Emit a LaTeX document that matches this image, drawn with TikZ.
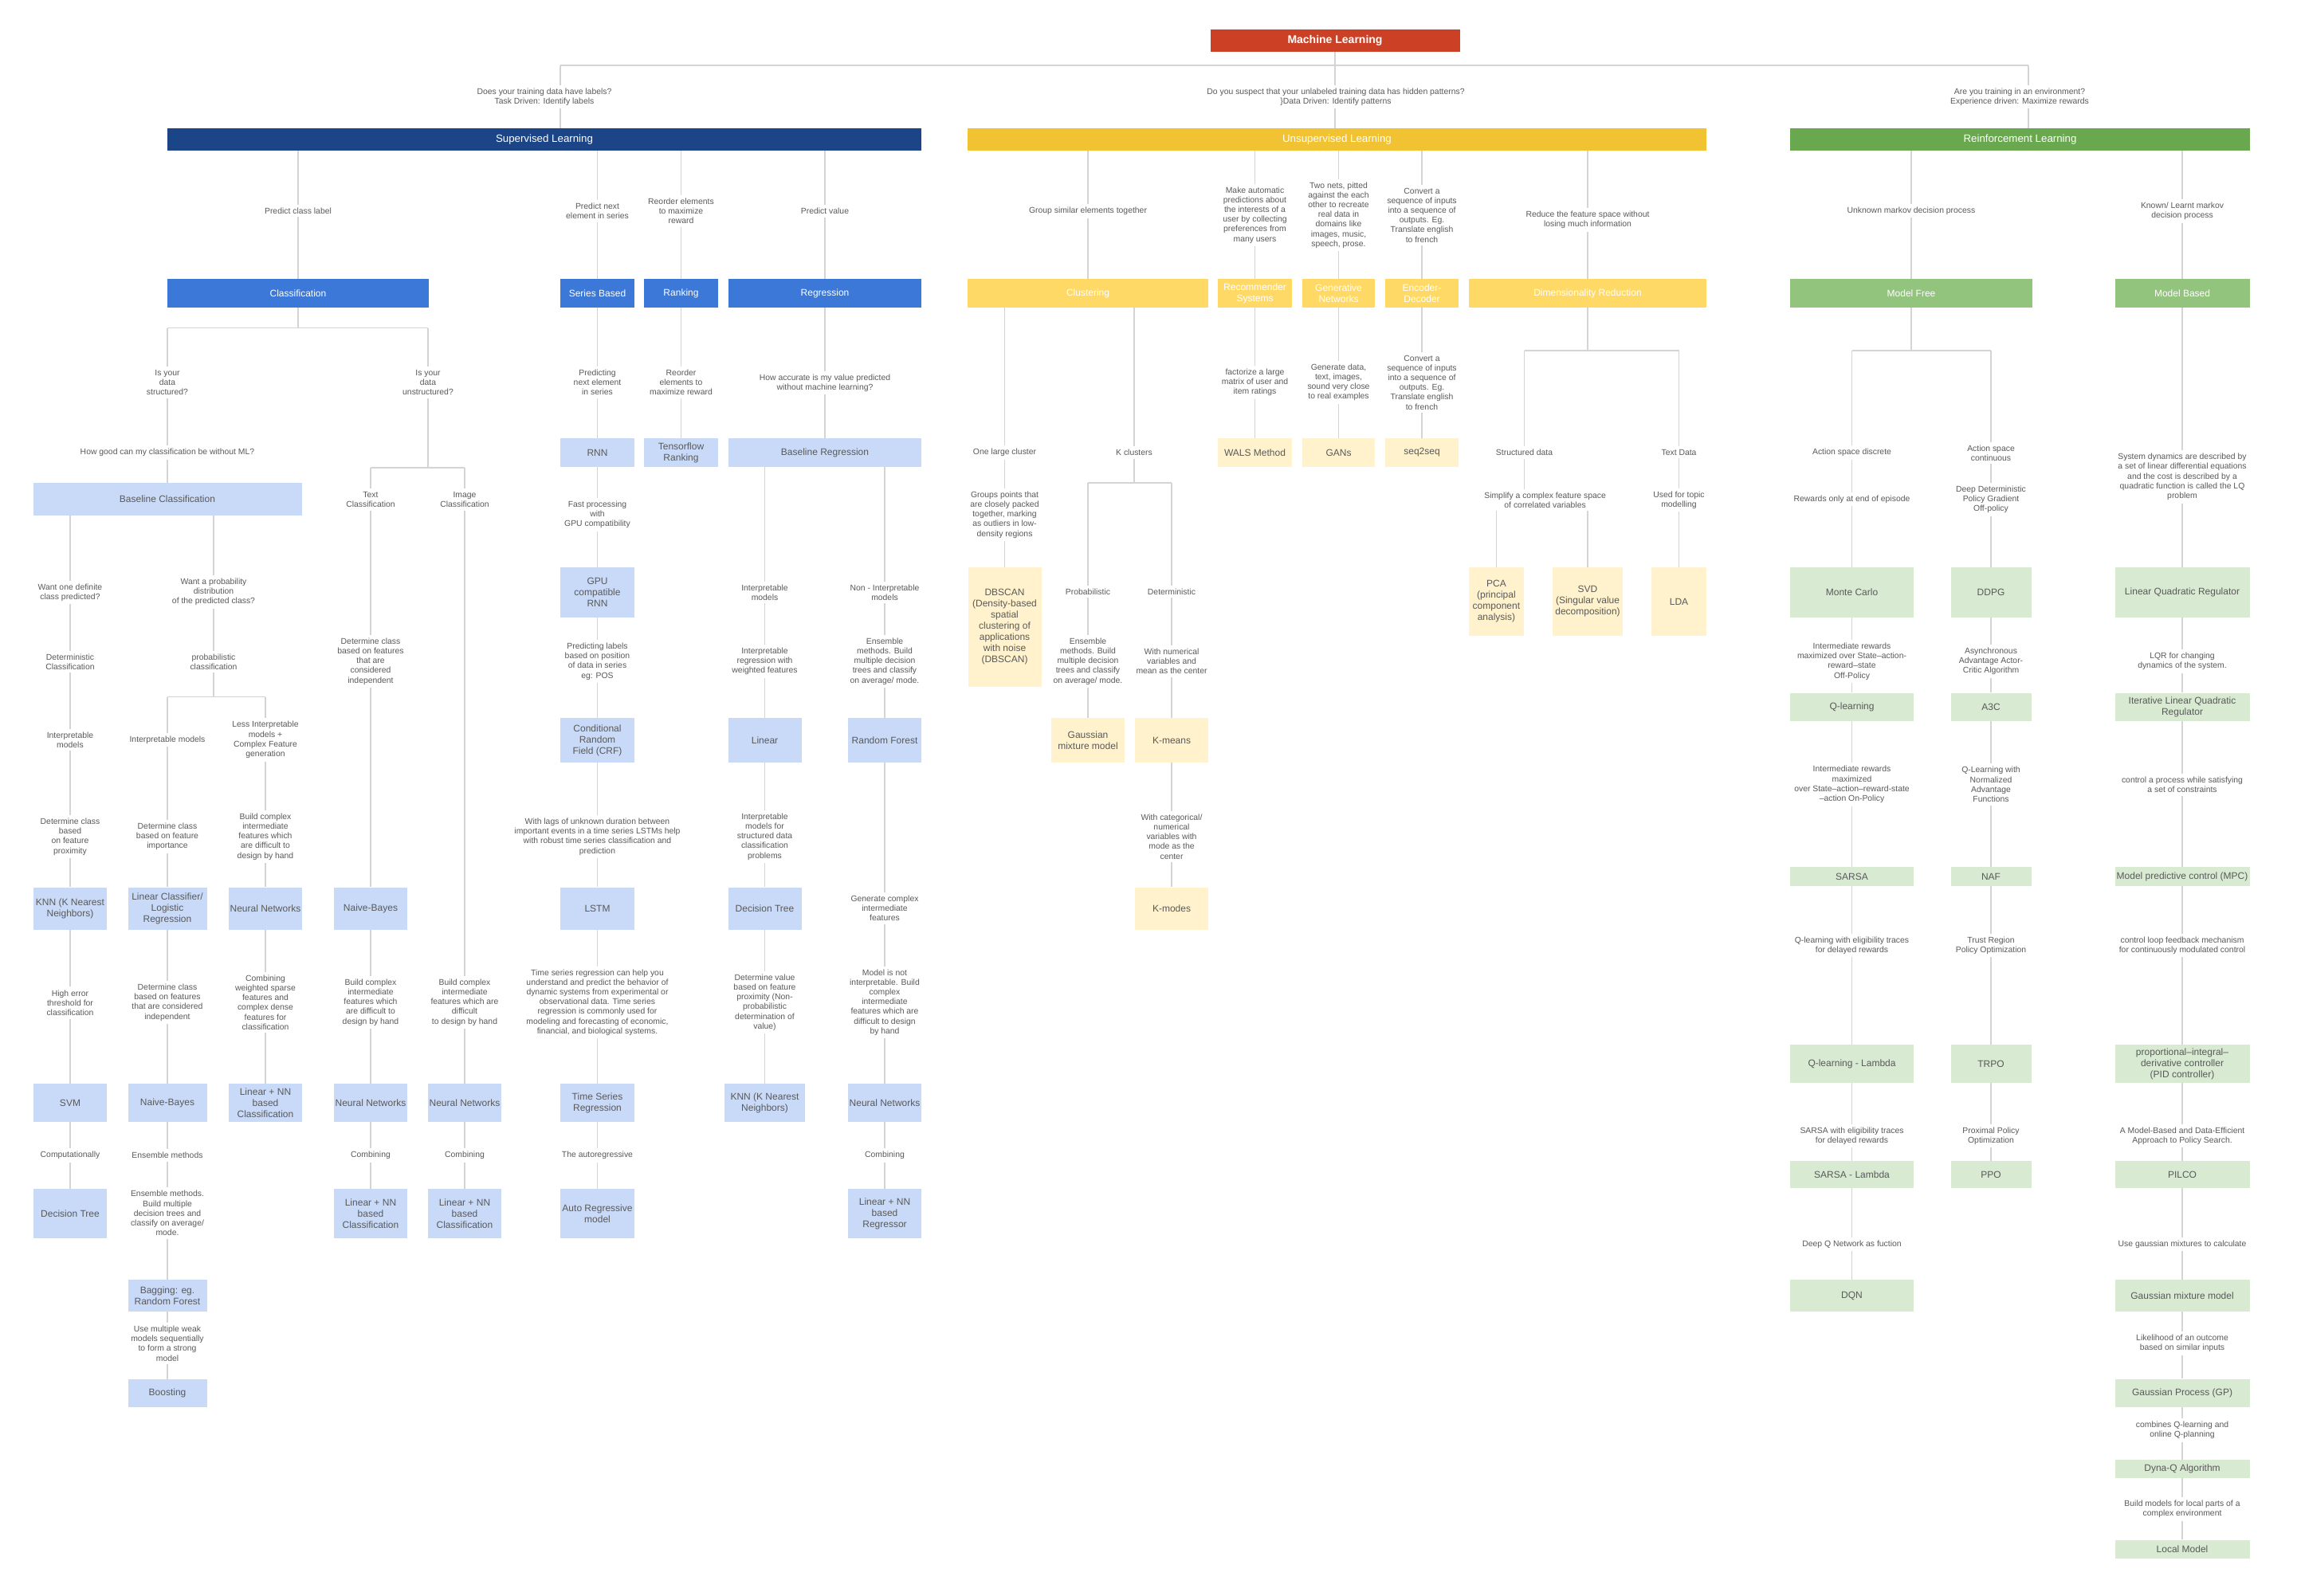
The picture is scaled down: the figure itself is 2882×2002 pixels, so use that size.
\documentclass[tikz,border=0pt]{standalone}
\usepackage{fontspec}
\setmainfont{Liberation Sans}
\usetikzlibrary{backgrounds}
\definecolor{mlred}{HTML}{CC4125}
\definecolor{supblue}{HTML}{1C4587}
\definecolor{catblue}{HTML}{3C78D8}
\definecolor{leafblue}{HTML}{C9DAF8}
\definecolor{unsupyellow}{HTML}{F1C232}
\definecolor{catyellow}{HTML}{FFD966}
\definecolor{leafyellow}{HTML}{FFF2CC}
\definecolor{rlgreen}{HTML}{6AA84F}
\definecolor{catgreen}{HTML}{93C47D}
\definecolor{leafgreen}{HTML}{D9EAD3}
\definecolor{linegray}{HTML}{D4D4D4}
\definecolor{textgray}{HTML}{595959}
\begin{document}
\begin{tikzpicture}[x=1pt,y=-1pt,
   lbl/.style={fill=white,text=textgray,align=center,inner xsep=1pt,inner ysep=4pt,
      font=\fontsize{10.4}{12.2}\selectfont},
   box/.style={inner sep=0pt,align=center,font=\fontsize{12}{14}\selectfont},
   sz/.style 2 args={minimum width=#1pt,minimum height=#2pt},
   head/.style={box,text=white,font=\fontsize{13.3}{16}\selectfont},
   bcat/.style={box,fill=catblue,text=white},
   ycat/.style={box,fill=catyellow,text=white},
   gcat/.style={box,fill=catgreen,text=white},
   bleaf/.style={box,fill=leafblue,text=textgray},
   yleaf/.style={box,fill=leafyellow,text=textgray},
   gleaf/.style={box,fill=leafgreen,text=textgray},
   conn/.style={draw=linegray,line width=1.4pt}]

   \useasboundingbox (0,0) rectangle (2882,2002);

   % top
   \node[box,fill=mlred,text=white,font=\bfseries\fontsize{14}{16}\selectfont,sz={313}{28}] (ml) at (1675,51) {Machine Learning};
   \coordinate (tl) at (703,82);
   \coordinate (tm) at (1675,82);
   \coordinate (tr) at (2545,82);
   \node[lbl] (qsup) at (683,121.5) {Does your training data have labels?\\Task Driven: Identify labels};
   \node[lbl] (qunsup) at (1676,121.5) {Do you suspect that your unlabeled training data has hidden patterns?\\\}Data Driven: Identify patterns};
   \node[lbl] (qrl) at (2534,121.5) {Are you training in an environment?\\Experience driven: Maximize rewards};
   \node[head,fill=supblue,sz={946}{28}] (sup) at (683,175) {Supervised Learning};
   \node[head,fill=unsupyellow,sz={927}{28}] (unsup) at (1677.5,175) {Unsupervised Learning};
   \node[head,fill=rlgreen,sz={577}{28}] (rl) at (2534.5,175) {Reinforcement Learning};

   % supervised
   \node[lbl] (pclass) at (374,264.5) {Predict class label};
   \node[lbl] (pnext) at (749.5,265) {Predict next\\element in series};
   \node[lbl] (reord) at (854.5,265) {Reorder elements\\to maximize\\reward};
   \node[lbl] (pval) at (1035,265) {Predict value};
   \node[bcat,sz={328}{36}] (cls) at (374,368) {Classification};
   \node[bcat,sz={93}{36}] (series) at (749.5,368) {Series Based};
   \node[bcat,sz={93}{36}] (rank) at (854.5,368) {Ranking};
   \node[bcat,sz={242}{36}] (reg) at (1035,368) {Regression};

   \coordinate (clsbus) at (374,411.5);
   \node[lbl] (isstr) at (210,480) {Is your\\data\\structured?};
   \node[lbl] (isunstr) at (537,480) {Is your\\data\\unstructured?};
   \node[lbl] (howgood) at (210,567.7) {How good can my classification be without ML?};
   \node[bleaf,sz={337}{41}] (basecls) at (210,626.5) {Baseline Classification};
   \coordinate (ubus) at (537,587);
   \node[lbl] (txtcls) at (465,627) {Text\\Classification};
   \node[lbl] (imgcls) at (583,627) {Image\\Classification};

   \node[lbl] (want1) at (88,743.5) {Want one definite\\class predicted?};
   \node[lbl] (detcls) at (88,830.5) {Deterministic\\Classification};
   \node[lbl] (interp1) at (88,928.5) {Interpretable\\models};
   \node[lbl] (prox) at (88,1050) {Determine class\\based\\on feature\\proximity};
   \node[bleaf,sz={92}{53}] (knn) at (88,1140) {KNN (K Nearest\\Neighbors)};
   \node[lbl] (higherr) at (88,1258.5) {High error\\threshold for\\classification};
   \node[bleaf,sz={92}{48}] (svm) at (88,1384) {SVM};
   \node[lbl] (comput) at (88,1450) {Computationally};
   \node[bleaf,sz={92}{62}] (dtcls) at (88,1523) {Decision Tree};

   \node[lbl] (wantprob) at (268,743) {Want a probability\\distribution\\of the predicted class?};
   \node[lbl] (probcls) at (268,830.5) {probabilistic\\classification};
   \coordinate (probbus) at (268,874.7);
   \node[lbl] (interp2) at (210,928.5) {Interpretable models};
   \node[lbl] (lessint) at (333,928.5) {Less Interpretable\\models +\\Complex Feature\\generation};
   \node[lbl] (importance) at (210,1050) {Determine class\\based on feature\\importance};
   \node[lbl] (complex1) at (333,1050) {Build complex\\intermediate\\features which\\are difficult to\\design by hand};
   \node[bleaf,sz={99}{53}] (lincls) at (210,1140) {Linear Classifier/\\Logistic\\Regression};
   \node[bleaf,sz={92}{53}] (nncls) at (333,1140) {Neural Networks};
   \node[lbl] (indep1) at (210,1258) {Determine class\\based on features\\that are considered\\independent};
   \node[lbl] (combsparse) at (333,1258) {Combining\\weighted sparse\\features and\\complex dense\\features for\\classification};
   \node[bleaf,sz={99}{48}] (nbcls) at (210,1384) {Naive-Bayes};
   \node[bleaf,sz={92}{48}] (linnn1) at (333,1384) {Linear + NN\\based\\Classification};
   \node[lbl] (ensem) at (210,1450) {Ensemble methods};
   \node[lbl] (ensemdesc) at (210,1522.5) {Ensemble methods.\\Build multiple\\decision trees and\\classify on average/\\mode.};
   \node[bleaf,sz={99}{40}] (bagging) at (210,1626) {Bagging: eg.\\Random Forest};
   \node[lbl] (weak) at (210,1686) {Use multiple weak\\models sequentially\\to form a strong\\model};
   \node[bleaf,sz={99}{35}] (boosting) at (210,1748.5) {Boosting};

   \node[lbl] (indep2) at (465,830) {Determine class\\based on features\\that are\\considered\\independent};
   \node[bleaf,sz={92}{53}] (nbtxt) at (465,1140) {Naive-Bayes};
   \node[lbl] (complex2) at (465,1258) {Build complex\\intermediate\\features which\\are difficult to\\design by hand};
   \node[bleaf,sz={92}{48}] (nntxt) at (465,1384) {Neural Networks};
   \node[lbl] (comb1) at (465,1450) {Combining};
   \node[bleaf,sz={92}{62}] (linnn2) at (465,1523) {Linear + NN\\based\\Classification};

   \node[lbl] (complex3) at (583,1258) {Build complex\\intermediate\\features which are\\difficult\\to design by hand};
   \node[bleaf,sz={92}{48}] (nnimg) at (583,1384) {Neural Networks};
   \node[lbl] (comb2) at (583,1450) {Combining};
   \node[bleaf,sz={92}{62}] (linnn3) at (583,1523) {Linear + NN\\based\\Classification};

   \node[lbl] (predser) at (749.5,480) {Predicting\\next element\\in series};
   \node[bleaf,sz={93}{36}] (rnn) at (749.5,568) {RNN};
   \node[lbl] (fastgpu) at (749.5,646) {Fast processing\\with\\GPU compatibility};
   \node[bleaf,sz={93}{63}] (gpurnn) at (749.5,743.5) {GPU\\compatible\\RNN};
   \node[lbl] (poslbl) at (749.5,830) {Predicting labels\\based on position\\of data in series\\eg: POS};
   \node[bleaf,sz={93}{56}] (crf) at (749.5,929) {Conditional\\Random\\Field (CRF)};
   \node[lbl] (lags) at (749.5,1050) {With lags of unknown duration between\\important events in a time series LSTMs help\\with robust time series classification and\\prediction};
   \node[bleaf,sz={93}{53}] (lstm) at (749.5,1140) {LSTM};
   \node[lbl] (tsdesc) at (749.5,1258) {Time series regression can help you\\understand and predict the behavior of\\dynamic systems from experimental or\\observational data. Time series\\regression is commonly used for\\modeling and forecasting of economic,\\financial, and biological systems.};
   \node[bleaf,sz={93}{48}] (tsreg) at (749.5,1384) {Time Series\\Regression};
   \node[lbl] (autoreg) at (749.5,1450) {The autoregressive};
   \node[bleaf,sz={93}{62}] (armodel) at (749.5,1523) {Auto Regressive\\model};

   \node[lbl] (reord2) at (854.5,480) {Reorder\\elements to\\maximize reward};
   \node[bleaf,sz={93}{36}] (tfrank) at (854.5,568) {Tensorflow\\Ranking};

   \node[lbl] (howacc) at (1035,480.5) {How accurate is my value predicted\\without machine learning?};
   \node[bleaf,sz={242}{36}] (basereg) at (1035,568) {Baseline Regression};
   \node[lbl] (interp3) at (959.5,743.5) {Interpretable\\models};
   \node[lbl] (interpreg) at (959.5,830) {Interpretable\\regression with\\weighted features};
   \node[bleaf,sz={92}{56}] (linear) at (959.5,929) {Linear};
   \node[lbl] (interpstruct) at (959.5,1050) {Interpretable\\models for\\structured data\\classification\\problems};
   \node[bleaf,sz={92}{53}] (dtreg) at (959.5,1140) {Decision Tree};
   \node[lbl] (detval) at (959.5,1258) {Determine value\\based on feature\\proximity (Non-\\probabilistic\\determination of\\value)};
   \node[bleaf,sz={101}{48}] (knnreg) at (959.5,1384) {KNN (K Nearest\\Neighbors)};
   \node[lbl] (noninterp) at (1110,743.5) {Non - Interpretable\\models};
   \node[lbl] (ensem2) at (1110,830) {Ensemble\\methods. Build\\multiple decision\\trees and classify\\on average/ mode.};
   \node[bleaf,sz={92}{56}] (rf) at (1110,929) {Random Forest};
   \node[lbl] (gencomplex) at (1110,1140) {Generate complex\\intermediate\\features};
   \node[lbl] (notinterp) at (1110,1258) {Model is not\\interpretable. Build\\complex\\intermediate\\features which are\\difficult to design\\by hand};
   \node[bleaf,sz={92}{48}] (nnreg) at (1110,1384) {Neural Networks};
   \node[lbl] (comb3) at (1110,1450) {Combining};
   \node[bleaf,sz={92}{62}] (linnnreg) at (1110,1523) {Linear + NN\\based\\Regressor};

   % unsupervised
   \node[lbl] (group) at (1365,265) {Group similar elements together};
   \node[lbl] (autopred) at (1574.5,270) {Make automatic\\predictions about\\the interests of a\\user by collecting\\preferences from\\many users};
   \node[lbl] (twonets) at (1679.5,270) {Two nets, pitted\\against the each\\other to recreate\\real data in\\domains like\\images, music,\\speech, prose.};
   \node[lbl] (convert1) at (1784,270) {Convert a\\sequence of inputs\\into a sequence of\\outputs. Eg.\\Translate english\\to french};
   \node[lbl] (reduce) at (1992,276) {Reduce the feature space without\\losing much information};
   \node[ycat,sz={302}{36}] (clust) at (1365,368) {Clustering};
   \node[ycat,sz={93}{36}] (recsys) at (1574.5,368) {Recommender\\Systems};
   \node[ycat,sz={91}{36}] (gen) at (1679.5,368) {Generative\\Networks};
   \node[ycat,sz={92}{36}] (encdec) at (1784,368) {Encoder-\\Decoder};
   \node[ycat,sz={298}{36}] (dimred) at (1992,368) {Dimensionality Reduction};

   \node[lbl] (onelarge) at (1260.5,567.7) {One large cluster};
   \node[lbl] (kclust) at (1423,567.7) {K clusters};
   \node[lbl] (groups) at (1260.5,646) {Groups points that\\are closely packed\\together, marking\\as outliers in low-\\density regions};
   \node[yleaf,sz={92}{150}] (dbscan) at (1260.5,787) {DBSCAN\\(Density-based\\spatial\\clustering of\\applications\\with noise\\(DBSCAN)};
   \coordinate (kbus) at (1423,606);
   \node[lbl] (probab) at (1365,742.4) {Probabilistic};
   \node[lbl] (determ) at (1470,742.4) {Deterministic};
   \node[lbl] (ensem3) at (1365,830) {Ensemble\\methods. Build\\multiple decision\\trees and classify\\on average/ mode.};
   \node[lbl] (numvar) at (1470,830) {With numerical\\variables and\\mean as the center};
   \node[yleaf,sz={92}{56}] (gmmclust) at (1365,929) {Gaussian\\mixture model};
   \node[yleaf,sz={92}{56}] (kmeans) at (1470,929) {K-means};
   \node[lbl] (catvar) at (1470,1050) {With categorical/\\numerical\\variables with\\mode as the\\center};
   \node[yleaf,sz={92}{53}] (kmodes) at (1470,1140) {K-modes};

   \node[lbl] (factorize) at (1574.5,480) {factorize a large\\matrix of user and\\item ratings};
   \node[yleaf,sz={93}{36}] (wals) at (1574.5,568) {WALS Method};
   \node[lbl] (gendata) at (1679.5,480) {Generate data,\\text, images,\\sound very close\\to real examples};
   \node[yleaf,sz={91}{36}] (gans) at (1679.5,568) {GANs};
   \node[lbl] (convert2) at (1784,480) {Convert a\\sequence of inputs\\into a sequence of\\outputs. Eg.\\Translate english\\to french};
   \node[yleaf,sz={92}{36}] (seq) at (1784,568) {seq2seq};

   \coordinate (dbus) at (1992,440);
   \node[lbl] (structd) at (1912.5,567.7) {Structured data};
   \node[lbl] (textd) at (2106.5,567.7) {Text Data};
   \node[lbl] (simplify) at (1938.6,627.5) {Simplify a complex feature space\\of correlated variables};
   \node[lbl] (topic) at (2106.5,627.5) {Used for topic\\modelling};
   \node[yleaf,sz={69}{86}] (pca) at (1877.4,755) {PCA\\(principal\\component\\analysis)};
   \node[yleaf,sz={88}{86}] (svd) at (1992,755) {SVD\\(Singular value\\decomposition)};
   \node[yleaf,sz={69}{86}] (lda) at (2106.5,755) {LDA};

   % reinforcement
   \node[lbl] (unknown) at (2398,264.5) {Unknown markov decision process};
   \node[lbl] (known) at (2738,265) {Known/ Learnt markov\\decision process};
   \node[gcat,sz={304}{36}] (mfree) at (2398,368) {Model Free};
   \node[gcat,sz={169}{36}] (mbased) at (2738,368) {Model Based};
   \coordinate (mfbus) at (2398,440);
   \node[lbl] (discrete) at (2323.5,567.7) {Action space discrete};
   \node[lbl] (contin) at (2498,568.5) {Action space\\continuous};
   \node[lbl] (endep) at (2323.5,626.6) {Rewards only at end of episode};
   \node[lbl] (ddpglbl) at (2498,627) {Deep Deterministic\\Policy Gradient\\Off-policy};
   \node[lbl] (sysdyn) at (2738,598.5) {System dynamics are described by\\a set of linear differential equations\\and the cost is described by a\\quadratic function is called the LQ\\problem};
   \node[gleaf,sz={155}{63}] (monte) at (2323.5,743.5) {Monte Carlo};
   \node[gleaf,sz={101}{63}] (ddpg) at (2498,743.5) {DDPG};
   \node[gleaf,sz={169}{63}] (lqr) at (2738,743.5) {Linear Quadratic Regulator};
   \node[lbl] (offpol) at (2323.5,830) {Intermediate rewards\\maximized over State–action-\\reward–state\\Off-Policy};
   \node[lbl] (async) at (2498,830) {Asynchronous\\Advantage Actor-\\Critic Algorithm};
   \node[lbl] (lqrchg) at (2738,830) {LQR for changing\\dynamics of the system.};
   \node[gleaf,sz={155}{35}] (qlearn) at (2323.5,887) {Q-learning};
   \node[gleaf,sz={101}{35}] (a3c) at (2498,887) {A3C};
   \node[gleaf,sz={169}{35}] (ilqr) at (2738,887) {Iterative Linear Quadratic\\Regulator};
   \node[lbl] (onpol) at (2323.5,984.5) {Intermediate rewards\\maximized\\over State–action–reward-state\\–action On-Policy};
   \node[lbl] (nafl) at (2498,984.5) {Q-Learning with\\Normalized\\Advantage\\Functions};
   \node[lbl] (constr) at (2738,985) {control a process while satisfying\\a set of constraints};
   \node[gleaf,sz={155}{24}] (sarsa) at (2323.5,1100) {SARSA};
   \node[gleaf,sz={101}{24}] (naf) at (2498,1100) {NAF};
   \node[gleaf,sz={169}{24}] (mpc) at (2738,1100) {Model predictive control (MPC)};
   \node[lbl] (elig1) at (2323.5,1186.5) {Q-learning with eligibility traces\\for delayed rewards};
   \node[lbl] (trust) at (2498,1186.5) {Trust Region\\Policy Optimization};
   \node[lbl] (loop) at (2738,1186.5) {control loop feedback mechanism\\for continuously modulated control};
   \node[gleaf,sz={155}{48}] (qlam) at (2323.5,1335) {Q-learning - Lambda};
   \node[gleaf,sz={101}{48}] (trpo) at (2498,1335) {TRPO};
   \node[gleaf,sz={169}{48}] (pid) at (2738,1335) {proportional–integral–\\derivative controller\\(PID controller)};
   \node[lbl] (elig2) at (2323.5,1425.5) {SARSA with eligibility traces\\for delayed rewards};
   \node[lbl] (proximal) at (2498,1425.5) {Proximal Policy\\Optimization};
   \node[lbl] (pilcolbl) at (2738,1425.5) {A Model-Based and Data-Efficient\\Approach to Policy Search.};
   \node[gleaf,sz={155}{34}] (sarsalam) at (2323.5,1474) {SARSA - Lambda};
   \node[gleaf,sz={101}{34}] (ppo) at (2498,1474) {PPO};
   \node[gleaf,sz={169}{34}] (pilco) at (2738,1474) {PILCO};
   \node[lbl] (dqnlbl) at (2323.5,1561.6) {Deep Q Network as fuction};
   \node[lbl] (gmmlbl) at (2738,1561.6) {Use gaussian mixtures to calculate};
   \node[gleaf,sz={155}{40}] (dqn) at (2323.5,1626) {DQN};
   \node[gleaf,sz={169}{40}] (gmmrl) at (2738,1626) {Gaussian mixture model};
   \node[lbl] (likeli) at (2738,1686) {Likelihood of an outcome\\based on similar inputs};
   \node[gleaf,sz={169}{35}] (gp) at (2738,1748) {Gaussian Process (GP)};
   \node[lbl] (combq) at (2738,1795) {combines Q-learning and\\online Q-planning};
   \node[gleaf,sz={169}{23}] (dyna) at (2738,1843.5) {Dyna-Q Algorithm};
   \node[lbl] (localbl) at (2738,1894) {Build models for local parts of a\\complex environment};
   \node[gleaf,sz={169}{23}] (local) at (2738,1944) {Local Model};

   \begin{scope}[on background layer]
      \fill[white] (0,0) rectangle (2882,2002);
      \draw[conn] (tl) -- (tr);
      \draw[conn] (ml) -- (tm);
      \draw[conn] (tl) -- (tl |- sup.north);
      \draw[conn] (tm) -- (tm |- unsup.north);
      \draw[conn] (tr) -- (tr |- rl.north);
      % supervised
      \draw[conn] (cls |- sup.south) -- (cls);
      \draw[conn] (series |- sup.south) -- (series);
      \draw[conn] (rank |- sup.south) -- (rank);
      \draw[conn] (reg |- sup.south) -- (reg);
      \draw[conn] (cls) -- (clsbus);
      \draw[conn] (isstr |- clsbus) -- (isunstr |- clsbus);
      \draw[conn] (isstr |- clsbus) -- (basecls);
      \draw[conn] (isunstr |- clsbus) -- (ubus);
      \draw[conn] (txtcls |- ubus) -- (imgcls |- ubus);
      \draw[conn] (txtcls |- ubus) -- (nbtxt) -- (nntxt) -- (linnn2);
      \draw[conn] (imgcls |- ubus) -- (nnimg) -- (linnn3);
      \draw[conn] (basecls.south -| knn) -- (knn) -- (svm) -- (dtcls);
      \draw[conn] (basecls.south -| probcls) -- (probbus);
      \draw[conn] (interp2 |- probbus) -- (lessint |- probbus);
      \draw[conn] (interp2 |- probbus) -- (lincls) -- (nbcls) -- (bagging) -- (boosting);
      \draw[conn] (lessint |- probbus) -- (nncls) -- (linnn1);
      \draw[conn] (series) -- (rnn) -- (gpurnn) -- (crf) -- (lstm) -- (tsreg) -- (armodel);
      \draw[conn] (rank) -- (tfrank);
      \draw[conn] (reg) -- (basereg);
      \draw[conn] (basereg.south -| linear) -- (linear) -- (dtreg) -- (knnreg);
      \draw[conn] (basereg.south -| rf) -- (rf) -- (nnreg) -- (linnnreg);
      % unsupervised
      \draw[conn] (clust |- unsup.south) -- (clust);
      \draw[conn] (recsys |- unsup.south) -- (recsys);
      \draw[conn] (gen |- unsup.south) -- (gen);
      \draw[conn] (encdec |- unsup.south) -- (encdec);
      \draw[conn] (dimred |- unsup.south) -- (dimred);
      \draw[conn] (clust.south -| onelarge) -- (dbscan);
      \draw[conn] (clust.south -| kclust) -- (kbus);
      \draw[conn] (probab |- kbus) -- (determ |- kbus);
      \draw[conn] (probab |- kbus) -- (gmmclust);
      \draw[conn] (determ |- kbus) -- (kmeans) -- (kmodes);
      \draw[conn] (recsys) -- (wals);
      \draw[conn] (gen) -- (gans);
      \draw[conn] (encdec) -- (seq);
      \draw[conn] (dimred) -- (dbus);
      \draw[conn] (structd |- dbus) -- (textd |- dbus);
      \draw[conn] (structd |- dbus) -- (structd |- simplify);
      \draw[conn] (textd |- dbus) -- (lda);
      \draw[conn] (pca |- simplify) -- (pca);
      \draw[conn] (svd |- simplify) -- (svd);
      % reinforcement
      \draw[conn] (mfree |- rl.south) -- (mfree);
      \draw[conn] (mbased |- rl.south) -- (mbased);
      \draw[conn] (mfree) -- (mfbus);
      \draw[conn] (discrete |- mfbus) -- (contin |- mfbus);
      \draw[conn] (discrete |- mfbus) -- (monte) -- (qlearn) -- (sarsa) -- (qlam) -- (sarsalam) -- (dqn);
      \draw[conn] (contin |- mfbus) -- (ddpg) -- (a3c) -- (naf) -- (trpo) -- (ppo);
      \draw[conn] (mbased) -- (lqr) -- (ilqr) -- (mpc) -- (pid) -- (pilco) -- (gmmrl) -- (gp) -- (dyna) -- (local);
   \end{scope}
\end{tikzpicture}
\end{document}
